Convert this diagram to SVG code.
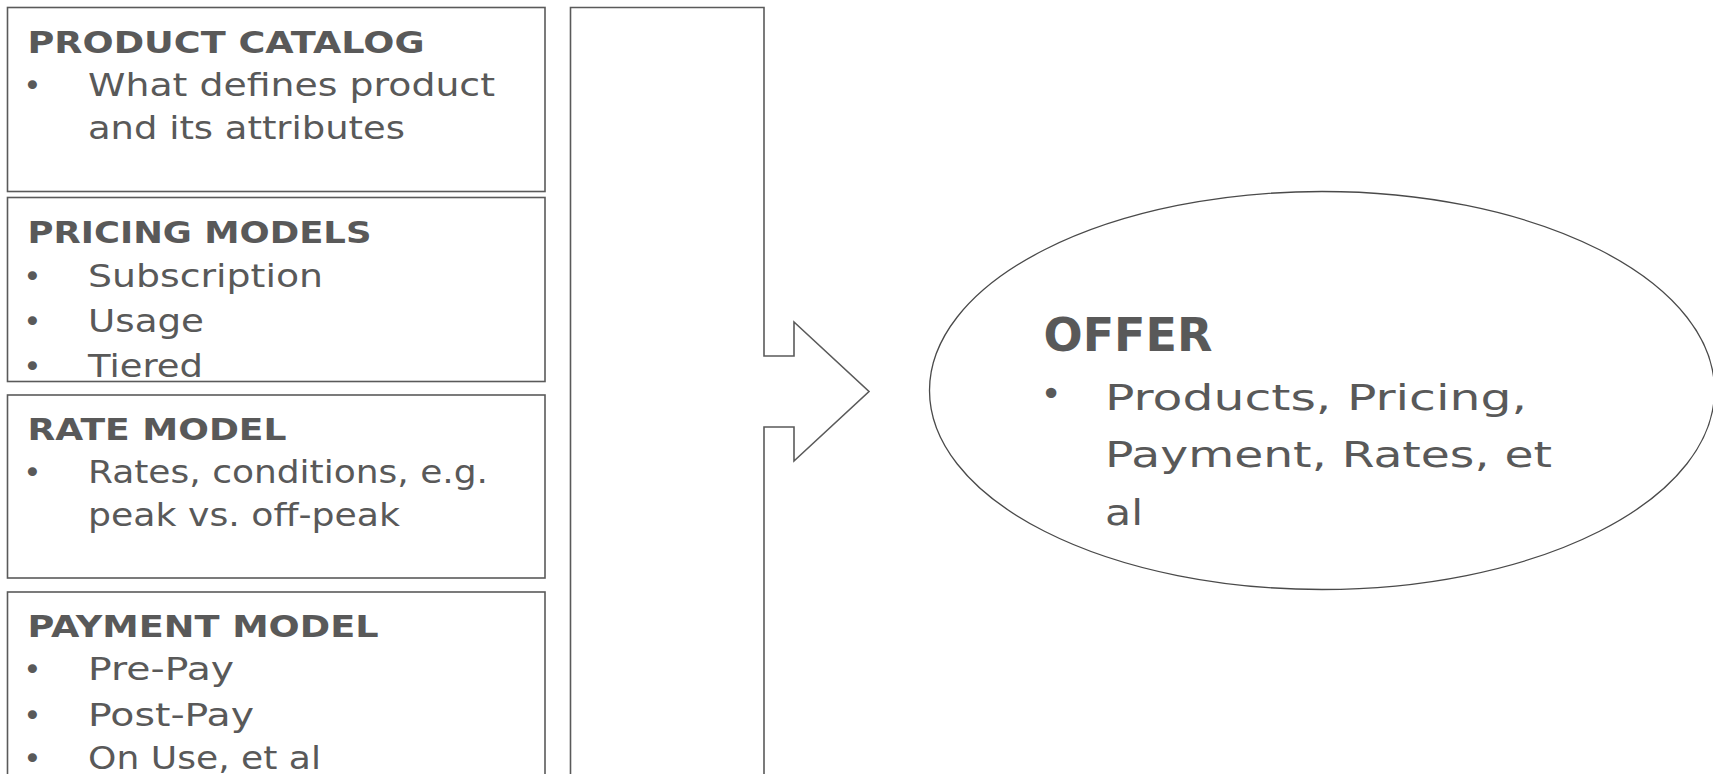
<svg xmlns="http://www.w3.org/2000/svg" width="1713" height="774" viewBox="0 0 1713 774">
<style>
.box{fill:#fff;stroke:#5a5a5a;stroke-width:1.6}
.oval{fill:#fff;stroke:#4a4a4a;stroke-width:1.3}
.arrow{fill:#fff;stroke:#5a5a5a;stroke-width:1.6;stroke-linejoin:miter}
text{fill:#595959;font-family:"DejaVu Sans","Liberation Sans",sans-serif}
.h{font-weight:bold;font-size:31px}
.b{font-size:32px}
.bl{font-size:31px;text-anchor:middle}
.oh{font-weight:bold;font-size:46px}
.ob{font-size:36px}
.obl{font-size:36px;text-anchor:middle}
</style>
<rect width="1713" height="774" fill="#fff"/>
<g id="connectors">
<path class="arrow" d="M570.5,7.5 H764 V356 H794 V322 L869,391.5 L794,461 V427 H764 V790 H570.5 Z"/>
</g>
<g id="product-catalog">
<rect class="box" x="7.5" y="7.5" width="537.5" height="184"/>
<text class="h" x="27.5" y="52.5" textLength="397" lengthAdjust="spacingAndGlyphs">PRODUCT CATALOG</text>
<text class="bl" x="32.5" y="96">•</text>
<text class="b" x="88" y="96" textLength="407" lengthAdjust="spacingAndGlyphs">What defines product</text>
<text class="b" x="88" y="138.5" textLength="317" lengthAdjust="spacingAndGlyphs">and its attributes</text>
</g>
<g id="pricing-models">
<rect class="box" x="7.5" y="197.5" width="537.5" height="184"/>
<text class="h" x="27.5" y="243" textLength="344" lengthAdjust="spacingAndGlyphs">PRICING MODELS</text>
<text class="bl" x="32.5" y="286.7">•</text>
<text class="b" x="88" y="286.7" textLength="235" lengthAdjust="spacingAndGlyphs">Subscription</text>
<text class="bl" x="32.5" y="332">•</text>
<text class="b" x="88" y="332" textLength="116" lengthAdjust="spacingAndGlyphs">Usage</text>
<text class="bl" x="32.5" y="377.3">•</text>
<text class="b" x="88" y="377.3" textLength="115" lengthAdjust="spacingAndGlyphs">Tiered</text>
</g>
<g id="rate-model">
<rect class="box" x="7.5" y="395" width="537.5" height="183"/>
<text class="h" x="27.5" y="440" textLength="259" lengthAdjust="spacingAndGlyphs">RATE MODEL</text>
<text class="bl" x="32.5" y="483.3">•</text>
<text class="b" x="88" y="483.3" textLength="400" lengthAdjust="spacingAndGlyphs">Rates, conditions, e.g.</text>
<text class="b" x="88" y="525.6" textLength="312" lengthAdjust="spacingAndGlyphs">peak vs. off-peak</text>
</g>
<g id="payment-model">
<rect class="box" x="7.5" y="592" width="537.5" height="200"/>
<text class="h" x="27.5" y="637" textLength="351" lengthAdjust="spacingAndGlyphs">PAYMENT MODEL</text>
<text class="bl" x="32.5" y="680">•</text>
<text class="b" x="88" y="680" textLength="146" lengthAdjust="spacingAndGlyphs">Pre-Pay</text>
<text class="bl" x="32.5" y="725.5">•</text>
<text class="b" x="88" y="725.5" textLength="166" lengthAdjust="spacingAndGlyphs">Post-Pay</text>
<text class="bl" x="32.5" y="769">•</text>
<text class="b" x="88" y="769" textLength="233" lengthAdjust="spacingAndGlyphs">On Use, et al</text>
</g>
<g id="offer">
<ellipse class="oval" cx="1322" cy="390.5" rx="392.5" ry="199"/>
<text class="oh" x="1043.5" y="350.5" textLength="169" lengthAdjust="spacingAndGlyphs">OFFER</text>
<text class="obl" x="1051" y="406">•</text>
<text class="ob" x="1105" y="409.5" textLength="422" lengthAdjust="spacingAndGlyphs">Products, Pricing,</text>
<text class="ob" x="1105" y="466.5" textLength="447" lengthAdjust="spacingAndGlyphs">Payment, Rates, et</text>
<text class="ob" x="1105" y="525" textLength="38" lengthAdjust="spacingAndGlyphs">al</text>
</g>
</svg>
